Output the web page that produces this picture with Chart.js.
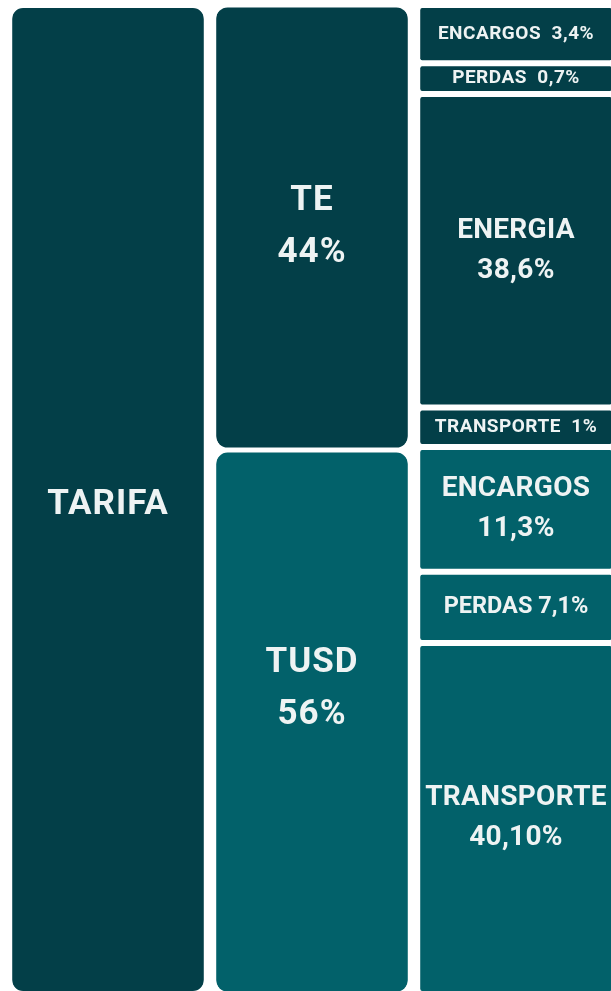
<!DOCTYPE html>
<html lang="pt-BR">
<head>
    <meta charset="UTF-8">
    <meta name="viewport" content="width=device-width, initial-scale=1.0">
    <title>Composição da Tarifa</title>
    <script src="https://cdn.jsdelivr.net/npm/chart.js"></script>
    <style>
        html, body { margin: 0; padding: 0; background: #fff; overflow: hidden; }
        #wrap { width: 618px; height: 994px; position: relative; }
    </style>
</head>
<body>
    <div id="wrap"><canvas id="tarifaChart"></canvas></div>
    <script>
        // columns of the treemap, left to right
        var columns = ['Tarifa', 'TE / TUSD', 'Componentes'];

        // column 1
        var tarifaNames = ['TARIFA'];
        var tarifaBlocks = [100];

        // column 2 (share shown in the label, block height as drawn)
        var groupNames = ['TE', 'TUSD'];
        var groupPct = ['44%', '56%'];
        var groupBlocks = [45, 55];

        // column 3
        var partNames = ['ENCARGOS', 'PERDAS', 'ENERGIA', 'TRANSPORTE', 'ENCARGOS', 'PERDAS', 'TRANSPORTE'];
        var partPct = ['3,4%', '0,7%', '38,6%', '1%', '11,3%', '7,1%', '40,10%'];
        var partGroup = ['TE', 'TE', 'TE', 'TE', 'TUSD', 'TUSD', 'TUSD'];
        var partBlocks = [5.9, 3.1, 31.7, 4.0, 12.6, 7.2, 35.5];

        var DARK = '#033f48';
        var TEAL = '#02616a';

        function colOnly(col, v) {
            var arr = [null, null, null];
            arr[col] = v;
            return arr;
        }

        var datasets = [];
        tarifaNames.forEach(function (n, i) {
            datasets.push({ name: n, pct: '', col: 0, data: colOnly(0, tarifaBlocks[i]),
                backgroundColor: DARK, radius: 14, bw: 3, shift: 6 });
        });
        groupNames.forEach(function (n, i) {
            datasets.push({ name: n, pct: groupPct[i], col: 1, data: colOnly(1, groupBlocks[i]),
                backgroundColor: n === 'TE' ? DARK : TEAL, radius: 14, bw: 2.5, shift: n === 'TUSD' ? -33 : 0 });
        });
        partNames.forEach(function (n, i) {
            datasets.push({ name: n, pct: partPct[i], col: 2, data: colOnly(2, partBlocks[i]),
                backgroundColor: partGroup[i] === 'TE' ? DARK : TEAL, radius: 5, bw: 3, shift: 0 });
        });
        datasets.forEach(function (ds) {
            ds.borderColor = '#ffffff';
            ds.borderWidth = { top: ds.bw, bottom: ds.bw, left: 0, right: 0 };
            ds.borderSkipped = false;
            ds.borderRadius = { topLeft: ds.radius, topRight: ds.radius, bottomLeft: ds.radius, bottomRight: ds.radius };
            ds.categoryPercentage = 1;
            ds.barPercentage = 0.94;
        });

        // write the name / percentage inside each box
        var boxLabels = {
            id: 'boxLabels',
            afterDatasetsDraw: function (chart) {
                var ctx = chart.ctx;
                ctx.save();
                ctx.fillStyle = '#eef3f3';
                ctx.textAlign = 'center';
                ctx.textBaseline = 'middle';
                chart.data.datasets.forEach(function (ds, i) {
                    var bar = chart.getDatasetMeta(i).data[ds.col];
                    if (!bar) return;
                    var p = bar.getProps(['x', 'y', 'base'], true);
                    var top = Math.min(p.y, p.base), bottom = Math.max(p.y, p.base);
                    var h = bottom - top;
                    var cy = (top + bottom) / 2 + ds.shift;
                    if (ds.col < 2) {
                        ctx.font = 'bold 35px Roboto';
                        ctx.letterSpacing = '1px';
                        if (ds.pct) {
                            ctx.fillText(ds.name, p.x, cy - 26);
                            ctx.fillText(ds.pct, p.x, cy + 26);
                        } else {
                            ctx.fillText(ds.name, p.x, cy);
                        }
                    } else if (h < 60) {
                        ctx.font = 'bold 19px Roboto';
                        ctx.letterSpacing = '0.5px';
                        ctx.fillText(ds.name + '  ' + ds.pct, p.x, cy);
                    } else if (h < 100) {
                        ctx.font = 'bold 23.5px Roboto';
                        ctx.letterSpacing = '0px';
                        ctx.fillText(ds.name + ' ' + ds.pct, p.x, cy);
                    } else {
                        ctx.font = 'bold 28px Roboto';
                        ctx.letterSpacing = '0.3px';
                        ctx.fillText(ds.name, p.x, cy - 20);
                        ctx.fillText(ds.pct, p.x, cy + 20);
                    }
                });
                ctx.restore();
            }
        };

        var ctx = document.getElementById('tarifaChart').getContext('2d');
        var tarifaChart = new Chart(ctx, {
            type: 'bar',
            data: { labels: columns, datasets: datasets },
            options: {
                responsive: true,
                maintainAspectRatio: false,
                animation: false,
                layout: { padding: { left: 6, top: 5, right: 0, bottom: 0 } },
                plugins: { legend: { display: false }, tooltip: { enabled: false } },
                scales: {
                    x: { stacked: true, display: false },
                    y: { stacked: true, display: false, reverse: true, min: 0, max: 100 }
                }
            },
            plugins: [boxLabels]
        });
    </script>
</body>
</html>
